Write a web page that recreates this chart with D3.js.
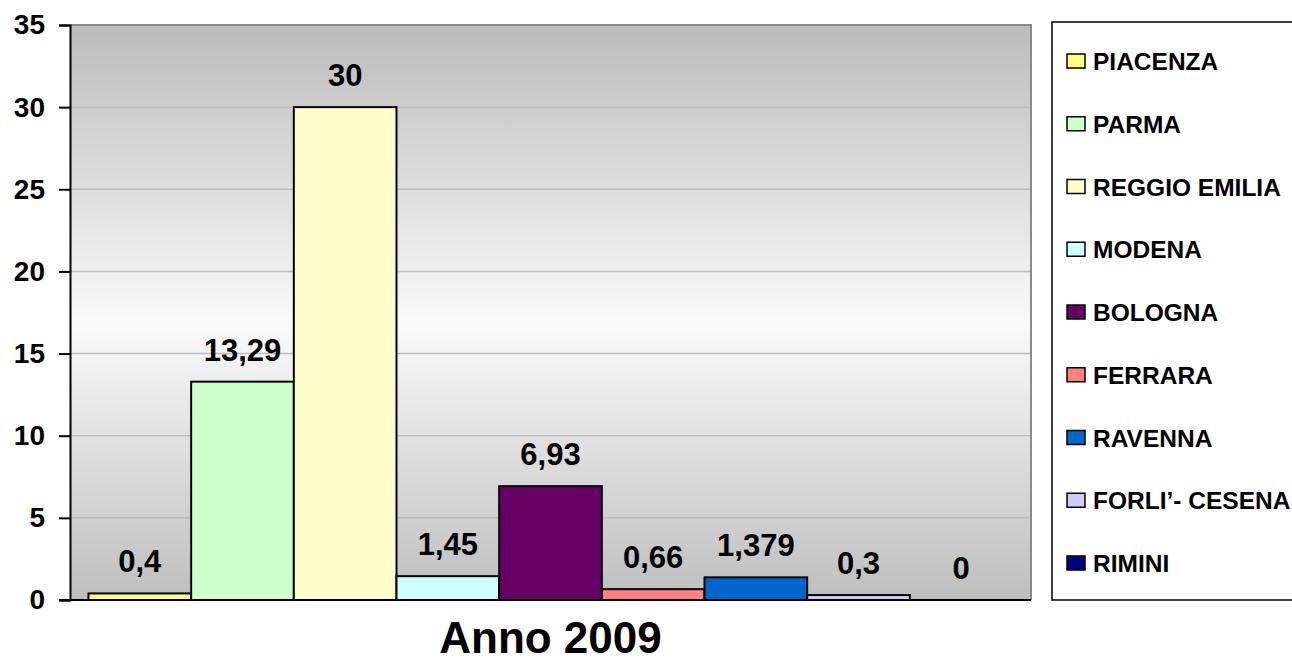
<!DOCTYPE html>
<html lang="it">
<head>
    <meta charset="UTF-8">
    <script src="https://cdn.jsdelivr.net/npm/d3@7"></script>
    <title>Anno 2009</title>
    <style>
        * { margin: 0; padding: 0; box-sizing: border-box; }
        body { background: white; overflow: hidden; }
        svg { display: block; font-family: "Liberation Sans", Arial, sans-serif; font-weight: bold; }
    </style>
</head>
<body>
    <svg width="1292" height="663"></svg>
    <script>
        let groups = ['Anno 2009']
        let provinces = ['PIACENZA', 'PARMA', 'REGGIO EMILIA', 'MODENA', 'BOLOGNA', 'FERRARA', 'RAVENNA', "FORLI'- CESENA", 'RIMINI']
        let legendNames = ['PIACENZA', 'PARMA', 'REGGIO EMILIA', 'MODENA', 'BOLOGNA', 'FERRARA', 'RAVENNA', 'FORLI\u2019- CESENA', 'RIMINI']
        let values = [0.4, 13.29, 30, 1.45, 6.93, 0.66, 1.379, 0.3, 0]
        let colors = ['#ffff80', '#ccffcc', '#ffffcc', '#ccffff', '#660066', '#ff8080', '#0066cc', '#ccccff', '#000080']
        let yTicks = [0, 5, 10, 15, 20, 25, 30, 35]

        let svg = d3.select('svg')

        let plotLeft = 70, plotRight = 1031, plotTop = 25, plotBottom = 600

        let x0 = d3.scaleBand()
            .domain(groups)
            .range([plotLeft, plotRight])
            .paddingInner(0)
            .paddingOuter(0.02)

        let x1 = d3.scaleBand()
            .domain(provinces)
            .range([0, x0.bandwidth()])

        let y = d3.scaleLinear()
            .domain([0, 35])
            .range([plotBottom, plotTop])

        // plot background gradient
        let defs = svg.append('defs')
        let grad = defs.append('linearGradient')
            .attr('id', 'bg')
            .attr('x1', 0).attr('y1', 0).attr('x2', 0).attr('y2', 1)
        grad.append('stop').attr('offset', '0%').attr('stop-color', '#bcbcbc')
        grad.append('stop').attr('offset', '52%').attr('stop-color', '#fafafa')
        grad.append('stop').attr('offset', '100%').attr('stop-color', '#bebebe')

        svg.append('rect')
            .attr('x', plotLeft)
            .attr('y', plotTop)
            .attr('width', plotRight - plotLeft)
            .attr('height', plotBottom - plotTop)
            .attr('fill', 'url(#bg)')

        // gridlines
        svg.append('g')
            .selectAll('line')
            .data(yTicks.filter(d => d > 0 && d < 35))
            .join('line')
            .attr('x1', plotLeft)
            .attr('x2', plotRight)
            .attr('y1', d => y(d))
            .attr('y2', d => y(d))
            .attr('stroke', '#bdbdbd')
            .attr('stroke-width', 1.5)

        // plot border (top / right)
        svg.append('path')
            .attr('d', `M${plotLeft},${plotTop}H${plotRight}V${plotBottom}`)
            .attr('fill', 'none')
            .attr('stroke', '#8a8a8a')
            .attr('stroke-width', 2)

        // bars
        let g = svg.append('g')
            .attr('transform', `translate(${x0(groups[0])}, 0)`)

        g.selectAll('rect')
            .data(values)
            .join('rect')
            .attr('x', (d, i) => x1(provinces[i]))
            .attr('y', d => y(d))
            .attr('width', x1.bandwidth())
            .attr('height', d => plotBottom - y(d))
            .attr('fill', (d, i) => colors[i])
            .attr('stroke', (d, i) => d > 0 ? '#000' : 'none')
            .attr('stroke-width', 2)

        g.selectAll('text')
            .data(values)
            .join('text')
            .attr('x', (d, i) => x1(provinces[i]) + x1.bandwidth() / 2)
            .attr('y', d => y(d) - 21)
            .attr('text-anchor', 'middle')
            .attr('font-size', 31)
            .attr('fill', '#000')
            .text(d => String(d).replace('.', ','))

        // axes
        let yAxis = d3.axisLeft(y)
            .tickValues(yTicks)
            .tickSize(11)
            .tickPadding(14)

        let ya = svg.append('g')
            .attr('transform', `translate(${plotLeft}, 0)`)
            .call(yAxis)
        ya.select('.domain').attr('stroke', '#000').attr('stroke-width', 2)
        ya.selectAll('.tick line').attr('stroke', '#000').attr('stroke-width', 2)
        ya.selectAll('.tick text')
            .attr('font-size', 28)
            .attr('font-weight', 'bold')
            .attr('font-family', '"Liberation Sans", Arial, sans-serif')
            .attr('fill', '#000')

        svg.append('line')
            .attr('x1', plotLeft - 11)
            .attr('x2', plotRight)
            .attr('y1', plotBottom)
            .attr('y2', plotBottom)
            .attr('stroke', '#000')
            .attr('stroke-width', 2)

        // x category label
        svg.append('text')
            .attr('x', x0(groups[0]) + x0.bandwidth() / 2)
            .attr('y', 653)
            .attr('text-anchor', 'middle')
            .attr('font-size', 44)
            .text(groups[0])

        // legend
        let legend = svg.append('g')
        legend.append('rect')
            .attr('x', 1052)
            .attr('y', 22)
            .attr('width', 260)
            .attr('height', 578)
            .attr('fill', '#fff')
            .attr('stroke', '#000')
            .attr('stroke-width', 1.5)

        let ly = d3.scalePoint()
            .domain(provinces)
            .range([61, 563])

        let items = legend.selectAll('g.item')
            .data(provinces)
            .join('g')
            .attr('class', 'item')
            .attr('transform', d => `translate(1067, ${ly(d)})`)

        items.append('rect')
            .attr('x', 0)
            .attr('y', -7)
            .attr('width', 18)
            .attr('height', 14)
            .attr('fill', (d, i) => colors[i])
            .attr('stroke', '#000')
            .attr('stroke-width', 1.5)

        items.append('text')
            .attr('x', 26)
            .attr('y', 9)
            .attr('font-size', 24.5)
            .text((d, i) => legendNames[i])
    </script>
</body>
</html>
